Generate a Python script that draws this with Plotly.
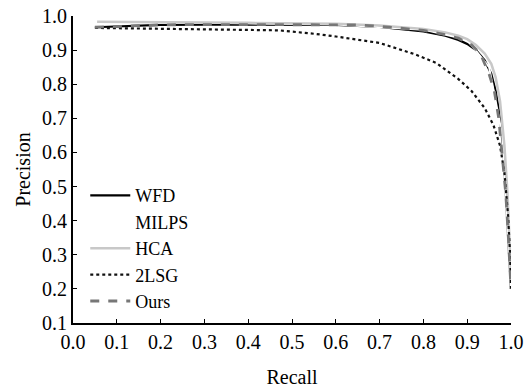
import plotly.graph_objects as go

recall_wfd = [0.05, 0.1, 0.2, 0.3, 0.4, 0.5, 0.6, 0.7, 0.75, 0.8, 0.85, 0.88, 0.9, 0.92, 0.94, 0.955, 0.965, 0.975, 0.983, 0.99, 0.995, 1.0]
prec_wfd = [0.967, 0.970, 0.974, 0.975, 0.975, 0.975, 0.974, 0.968, 0.962, 0.955, 0.942, 0.930, 0.918, 0.900, 0.870, 0.830, 0.780, 0.700, 0.600, 0.450, 0.320, 0.200]

recall_milps = [0.05, 0.3, 0.6, 0.8, 0.9, 0.95, 0.98, 1.0]
prec_milps = [0.98, 0.98, 0.975, 0.96, 0.93, 0.85, 0.65, 0.2]

recall_hca = [0.055, 0.1, 0.2, 0.3, 0.4, 0.5, 0.6, 0.7, 0.8, 0.85, 0.88, 0.9, 0.92, 0.94, 0.955, 0.965, 0.975, 0.985, 0.992, 0.997, 1.0]
prec_hca = [0.983, 0.983, 0.982, 0.981, 0.980, 0.979, 0.977, 0.972, 0.962, 0.952, 0.942, 0.932, 0.915, 0.890, 0.860, 0.820, 0.750, 0.620, 0.480, 0.330, 0.220]

recall_2lsg = [0.05, 0.1, 0.2, 0.3, 0.4, 0.47, 0.55, 0.6, 0.7, 0.78, 0.83, 0.88, 0.91, 0.94, 0.96, 0.975, 0.985, 0.993, 0.998, 1.0]
prec_2lsg = [0.965, 0.964, 0.963, 0.961, 0.960, 0.958, 0.948, 0.940, 0.921, 0.888, 0.862, 0.815, 0.780, 0.730, 0.680, 0.620, 0.540, 0.420, 0.300, 0.200]

recall_ours = [0.05, 0.1, 0.2, 0.3, 0.4, 0.5, 0.6, 0.65, 0.7, 0.75, 0.8, 0.85, 0.88, 0.91, 0.93, 0.95, 0.962, 0.972, 0.98, 0.988, 0.994, 0.998, 1.0]
prec_ours = [0.967, 0.970, 0.974, 0.975, 0.975, 0.975, 0.975, 0.974, 0.970, 0.965, 0.958, 0.945, 0.935, 0.915, 0.890, 0.830, 0.780, 0.700, 0.600, 0.480, 0.350, 0.260, 0.200]

x_ticks = [0.0, 0.1, 0.2, 0.3, 0.4, 0.5, 0.6, 0.7, 0.8, 0.9, 1.0]
y_ticks = [0.1, 0.2, 0.3, 0.4, 0.5, 0.6, 0.7, 0.8, 0.9, 1.0]

fig = go.Figure()
fig.add_trace(go.Scatter(x=recall_wfd, y=prec_wfd, mode="lines", name="WFD",
                         line=dict(color="#000000", width=2.2)))
fig.add_trace(go.Scatter(x=recall_milps, y=prec_milps, mode="lines", name="MILPS",
                         line=dict(color="#ffffff", width=2)))
fig.add_trace(go.Scatter(x=recall_hca, y=prec_hca, mode="lines", name="HCA",
                         line=dict(color="#c8c8c8", width=2.5)))
fig.add_trace(go.Scatter(x=recall_2lsg, y=prec_2lsg, mode="lines", name="2LSG",
                         line=dict(color="#111111", width=2.2, dash="dot")))
fig.add_trace(go.Scatter(x=recall_ours, y=prec_ours, mode="lines", name="Ours",
                         line=dict(color="#777777", width=2.8, dash="dash")))

FAM = "Liberation Serif"
font = dict(family=FAM, size=20, color="#000000")
legend_font = dict(family=FAM, size=18, color="#000000")

fig.update_layout(
    width=524, height=389,
    margin=dict(l=73, r=13, t=16, b=66),
    paper_bgcolor="white", plot_bgcolor="white",
    font=font,
    showlegend=True,
    legend=dict(x=0.028, y=0.475, xanchor="left", yanchor="top",
                bgcolor="rgba(0,0,0,0)", font=legend_font, tracegroupgap=0,
                itemwidth=40),
    xaxis=dict(range=[0, 1], tickvals=x_ticks, ticktext=[f"{v:.1f}" for v in x_ticks],
               showgrid=False, zeroline=False, showline=True, linecolor="black", linewidth=2,
               ticks="inside", ticklen=4, tickcolor="black", automargin=False,
               tickfont=font,
               title=dict(text="Recall", font=font, standoff=18)),
    yaxis=dict(range=[0.1, 1.0], tickvals=y_ticks, ticktext=[f"{v:.1f}" for v in y_ticks],
               showgrid=False, zeroline=False, showline=True, linecolor="black", linewidth=2,
               ticks="inside", ticklen=4, tickcolor="black", automargin=False,
               tickfont=font,
               title=dict(text="Precision", font=font, standoff=6)),
)

fig.write_html("out.html", config={"displayModeBar": False},
               post_script="document.body.style.margin='0px';")
